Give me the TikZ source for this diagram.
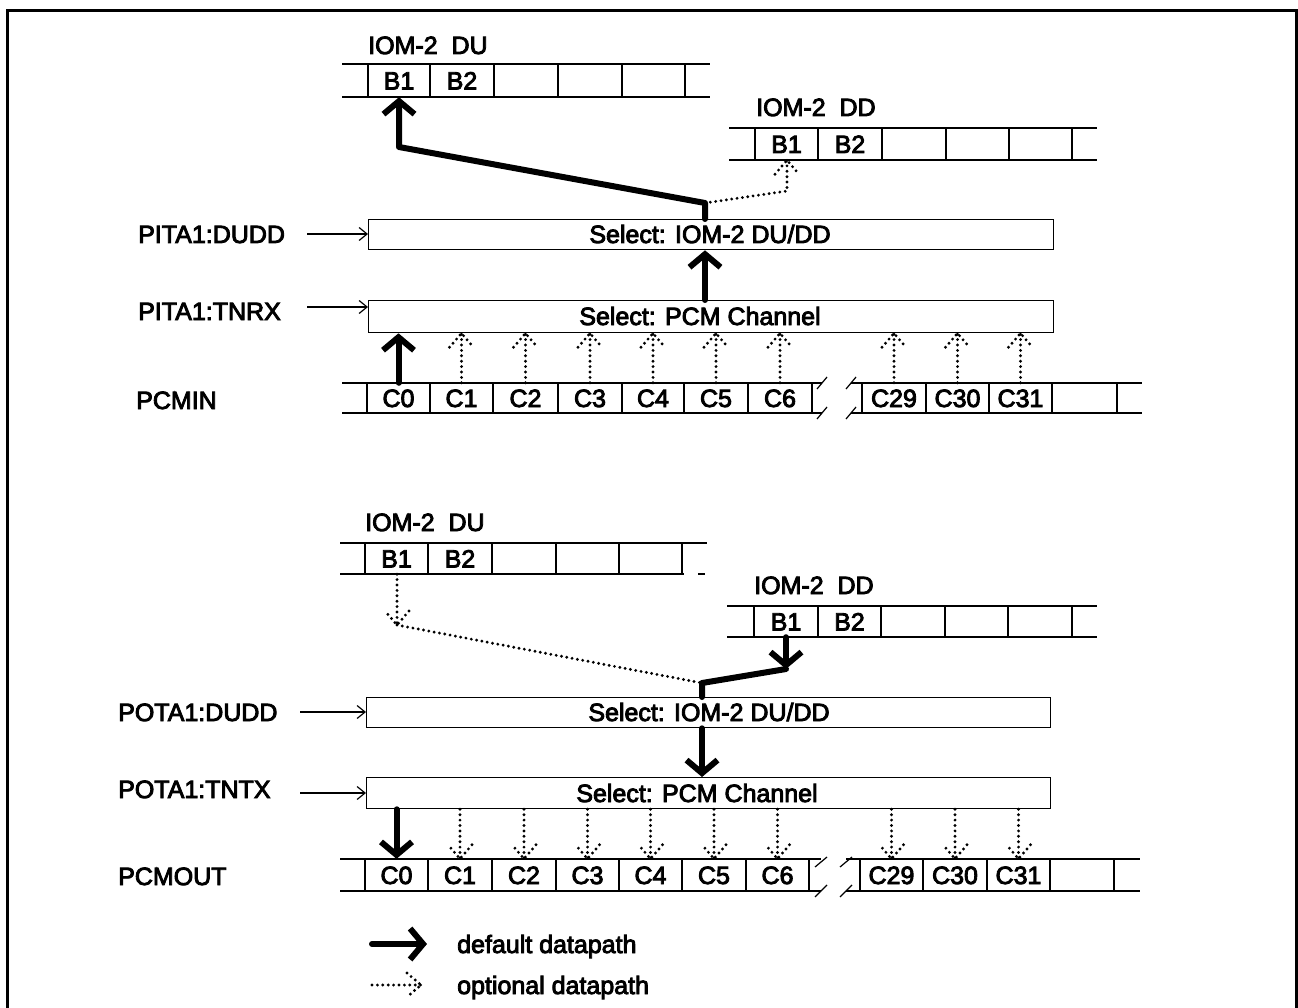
\documentclass[tikz,border=0pt]{standalone}
\usepackage{fontspec}
\setmainfont{Liberation Sans}
\newfontfamily\heavyfont{Liberation Sans}[FakeBold=3.5]
\usetikzlibrary{arrows.meta,decorations.markings}
\begin{document}
\begin{tikzpicture}[x=1pt,y=-1pt,
  txt/.style={font=\heavyfont\fontsize{25}{30}\selectfont, inner sep=0pt, text height=18pt, text depth=0pt},
  cellA/.style={txt, minimum width=62pt, minimum height=33pt},
  cellB/.style={txt, minimum width=62pt, minimum height=32pt},
  cellC/.style={txt, minimum width=62pt, minimum height=30pt},
  cellD/.style={txt, minimum width=62pt, minimum height=31pt},
  thinline/.style={line width=1.2pt},
  selbox/.style={draw, line width=1.3pt, inner sep=0pt},
  defarrow/.style={line width=6pt, line cap=round, line join=round, -{Straight Barb[length=13pt,width=31pt]}},
  thickline/.style={line width=6pt, line cap=round, line join=round},
  optline/.style={line width=3.2pt, line cap=round, dash pattern=on 0pt off 5.4pt},
  optarrow/.style={optline, postaction={decorate}, decoration={markings, mark=at position 1 with {\draw[optline] (-14pt,12pt) -- (0pt,0pt) -- (-14pt,-12pt);}}},
  labarrow/.style={line width=1.2pt, -{Straight Barb[length=8pt,width=13pt]}}
]
\useasboundingbox (0,0) rectangle (1298,1008);
% frame
\draw[line width=3pt] (7,1008) -- (7,11) -- (1296,11) -- (1296,1008);

% ===== TOP SECTION =====
\node[txt, anchor=west] (tdu) at (368,45) {IOM-2\ \ DU};
\draw[thinline] (342,64) -- (710,64) (342,97) -- (710,97);
\foreach \x in {368,430,494,558,622,685} \draw[thinline] (\x,64) -- (\x,97);
\node[cellA] (tdub1) at (399,80.5) {B1};
\node[cellA] (tdub2) at (462,80.5) {B2};

\node[txt, anchor=west] (tdd) at (756,107) {IOM-2\ \ DD};
\draw[thinline] (729,128) -- (1097,128) (729,160) -- (1097,160);
\foreach \x in {755,818,882,946,1009,1072} \draw[thinline] (\x,128) -- (\x,160);
\node[cellB] (tddb1) at (786.5,144) {B1};
\node[cellB] (tddb2) at (850,144) {B2};

\node[selbox, anchor=north west, minimum width=685pt, minimum height=30pt] (s1) at (368,219) {};
\node[txt] (s1t) at (710,234) {Select: IOM-2 DU/DD};
\node[selbox, anchor=north west, minimum width=685pt, minimum height=32pt] (s2) at (368,300) {};
\node[txt] (s2t) at (700,316) {Select: PCM Channel};

\node[txt, anchor=west] (l1) at (138,234) {PITA1:DUDD};
\node[txt, anchor=west] (l2) at (138,311) {PITA1:TNRX};
\node[txt, anchor=west] (l3) at (136,400) {PCMIN};
\coordinate (la1) at (307,234);
\coordinate (la2) at (307,307);
\draw[labarrow] (la1) -- (s1.west |- la1);
\draw[labarrow] (la2) -- (s2.west |- la2);

% PCMIN row
\draw[thinline] (342,383) -- (822,383) (851,383) -- (1142,383)
                (342,413) -- (822,413) (851,413) -- (1142,413);
\foreach \x in {367,430,493,558,622,684,748,812,862,926,989,1052,1117} \draw[thinline] (\x,383) -- (\x,413);
\foreach \x in {822,851} {
  \draw[thinline] (\x-5,389) -- (\x+5,377);
  \draw[thinline] (\x-5,419) -- (\x+5,407);
}
\node[cellC] (pin0) at (398.5,398) {C0};
\node[cellC] (pin1) at (461.5,398) {C1};
\node[cellC] (pin2) at (525.5,398) {C2};
\node[cellC] (pin3) at (590,398) {C3};
\node[cellC] (pin4) at (653,398) {C4};
\node[cellC] (pin5) at (716,398) {C5};
\node[cellC] (pin6) at (780,398) {C6};
\node[cellC] (pin29) at (894,398) {C29};
\node[cellC] (pin30) at (957.5,398) {C30};
\node[cellC] (pin31) at (1020.5,398) {C31};

% top arrows
\coordinate (j1) at (705,203);
\coordinate (bend1) at (399,147);
\coordinate (dd1) at (787,191);
\draw[defarrow] (s1.north -| j1) -- (j1) -- (bend1) -- (tdub1.south);
\draw[optarrow] (j1) -- (dd1) -- (tddb1.south -| dd1);
\draw[defarrow] (s2.north -| j1) -- (s1.south -| j1);
\draw[defarrow] (pin0.north) -- (pin0.north |- s2.south);
\foreach \n in {1,2,3,4,5,6,29,30,31} \draw[optarrow] (pin\n.north) -- (pin\n.north |- s2.south);

% ===== BOTTOM SECTION =====
\node[txt, anchor=west] (bdu) at (365,522) {IOM-2\ \ DU};
\draw[thinline] (340,543) -- (707,543) (340,574) -- (684,574) (698,574) -- (705,574);
\foreach \x in {365,428,492,556,619,682} \draw[thinline] (\x,543) -- (\x,574);
\node[cellD] (bdub1) at (396.5,558.5) {B1};
\node[cellD] (bdub2) at (460,558.5) {B2};

\node[txt, anchor=west] (bdd) at (754,585) {IOM-2\ \ DD};
\draw[thinline] (727,606) -- (1097,606) (727,637) -- (1097,637);
\foreach \x in {754,818,881,945,1008,1072} \draw[thinline] (\x,606) -- (\x,637);
\node[cellD] (bddb1) at (786,621.5) {B1};
\node[cellD] (bddb2) at (849.5,621.5) {B2};

\node[selbox, anchor=north west, minimum width=684pt, minimum height=30pt] (s3) at (366,697) {};
\node[txt] (s3t) at (709,712) {Select: IOM-2 DU/DD};
\node[selbox, anchor=north west, minimum width=684pt, minimum height=31pt] (s4) at (366,777) {};
\node[txt] (s4t) at (697,793) {Select: PCM Channel};

\node[txt, anchor=west] (l4) at (118,712) {POTA1:DUDD};
\node[txt, anchor=west] (l5) at (118,789) {POTA1:TNTX};
\node[txt, anchor=west] (l6) at (118,876) {PCMOUT};
\coordinate (la3) at (300,712);
\coordinate (la4) at (300,793);
\draw[labarrow] (la3) -- (s3.west |- la3);
\draw[labarrow] (la4) -- (s4.west |- la4);

% PCMOUT row
\draw[thinline] (340,859) -- (821,859) (846,859) -- (1140,859)
                (340,891) -- (821,891) (846,891) -- (1140,891);
\foreach \x in {365,428,492,556,619,682,746,809,860,923,987,1050,1114} \draw[thinline] (\x,859) -- (\x,891);
\foreach \x in {821,846} {
  \draw[thinline] (\x-6,867) -- (\x+6,857);
  \draw[thinline] (\x-6,897) -- (\x+6,885);
}
\node[cellB] (pout0) at (396.5,875) {C0};
\node[cellB] (pout1) at (460,875) {C1};
\node[cellB] (pout2) at (524,875) {C2};
\node[cellB] (pout3) at (587.5,875) {C3};
\node[cellB] (pout4) at (650.5,875) {C4};
\node[cellB] (pout5) at (714,875) {C5};
\node[cellB] (pout6) at (777.5,875) {C6};
\node[cellB] (pout29) at (891.5,875) {C29};
\node[cellB] (pout30) at (955,875) {C30};
\node[cellB] (pout31) at (1018.5,875) {C31};

% bottom arrows
\coordinate (j2) at (702,683);
\coordinate (bend2) at (786,669);
\coordinate (dv) at (397,625);
\draw[optarrow] (bdub1.south -| dv) -- (dv);
\draw[optline] (dv) -- (j2);
\draw[thickline] (bend2) -- (j2) -- (s3.north -| j2);
\draw[defarrow] (bddb1.south) -- (bend2);
\draw[defarrow] (s3.south -| j2) -- (s4.north -| j2);
\draw[defarrow] (s4.south -| pout0) -- (pout0.north);
\foreach \n in {1,2,3,4,5,6,29,30,31} \draw[optarrow] (s4.south -| pout\n) -- (pout\n.north);

% ===== LEGEND =====
\coordinate (lg1) at (372,944);
\coordinate (lg2) at (427,944);
\coordinate (lg3) at (372,985);
\coordinate (lg4) at (421,985);
\draw[defarrow] (lg1) -- (lg2);
\draw[optarrow] (lg3) -- (lg4);
\node[txt, anchor=west] (lgt1) at (457,944) {default datapath};
\node[txt, anchor=west] (lgt2) at (457,985) {optional datapath};
\end{tikzpicture}
\end{document}
